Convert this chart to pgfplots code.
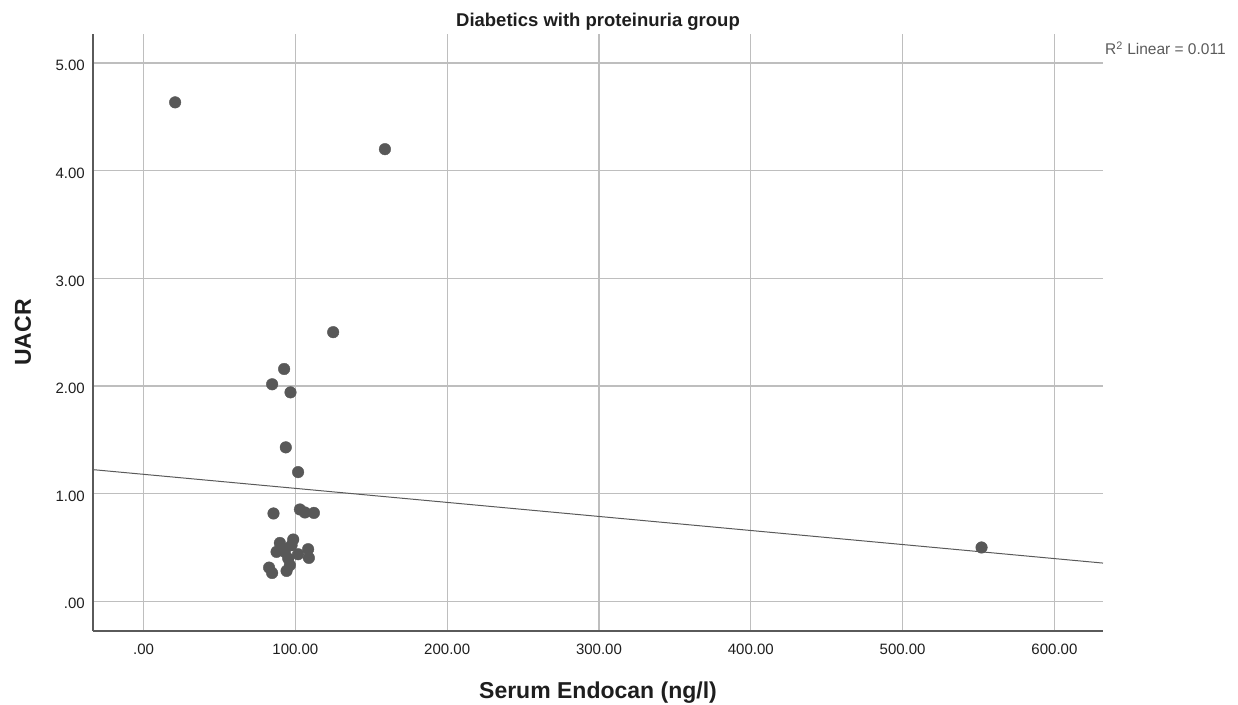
\documentclass[border=0pt]{standalone}
\usepackage{pgfplots}
\pgfplotsset{compat=1.18}
\usepackage{fontspec}
\setmainfont{Liberation Sans}
\definecolor{gridc}{HTML}{BEBEBE}
\definecolor{axc}{HTML}{5A5A5A}
\definecolor{ptc}{HTML}{585858}
\definecolor{txtc}{HTML}{1E1E1E}
\begin{document}
\begin{tikzpicture}[x=1pt,y=1pt]
\useasboundingbox (-93,-73) rectangle (1145,631);
\begin{axis}[
  at={(0pt,0pt)}, anchor=south west,
  scale only axis, width=1010pt, height=597pt,
  xmin=-33.3, xmax=632, ymin=-0.276, ymax=5.27,
  axis lines*=left,
  axis line style={axc, line width=1.6pt},
  grid=major,
  major grid style={gridc, line width=1.2pt},
  major tick length=0pt,
  xtick={0,100,200,300,400,500,600},
  xticklabels={.00,100.00,200.00,300.00,400.00,500.00,600.00},
  ytick={0,1,2,3,4,5},
  yticklabels={.00,1.00,2.00,3.00,4.00,5.00},
  /pgf/number format/assume math mode=true,
  ticklabel style={font=\fontsize{15}{17}\selectfont, text=txtc},
  xticklabel style={anchor=base, inner sep=0pt, yshift=-23.3pt},
  yticklabel style={anchor=east, inner sep=0pt, xshift=-8pt, yshift=-2.5pt},
  xlabel={Serum Endocan (ng/l)},
  ylabel={UACR},
  title={Diabetics with proteinuria group},
  every axis x label/.style={at={(axis description cs:0.5,0)}, anchor=center, yshift=-62pt, font=\bfseries\fontsize{23}{25}\selectfont, text=txtc},
  every axis y label/.style={at={(axis description cs:0,0.5)}, anchor=center, xshift=-70pt, rotate=90, font=\bfseries\fontsize{23}{25}\selectfont, text=txtc},
  every axis title/.style={at={(axis description cs:0.5,1)}, anchor=center, yshift=12.7pt, font=\bfseries\fontsize{18.5}{20}\selectfont, text=txtc},
  clip=false,
]
\addplot[only marks, mark=*, mark size=5.8pt, mark options={fill=ptc, draw=ptc}] coordinates {
(20.8,4.635) (159,4.20) (124.9,2.50) (552,0.50)
(92.6,2.158) (84.7,2.016) (96.8,1.941) (93.7,1.43) (101.8,1.20)
(85.6,0.816) (103,0.853) (106.3,0.825) (112.2,0.821)
(89.8,0.542) (98.6,0.574) (97.5,0.521) (87.6,0.459) (93.1,0.459)
(95.3,0.397) (101.8,0.437) (108.4,0.484) (108.9,0.403) (96.4,0.335)
(82.7,0.313) (84.7,0.263) (94.2,0.282) (92,0.49)
};
\addplot[axc, line width=1pt] coordinates {(-33.3,1.223) (632,0.355)};
\end{axis}
\node[anchor=base west, inner sep=0pt, text=axc, font=\fontsize{15.5}{17}\selectfont] at (1012,576) {R\textsuperscript{2} Linear = 0.011};
\end{tikzpicture}
\end{document}
